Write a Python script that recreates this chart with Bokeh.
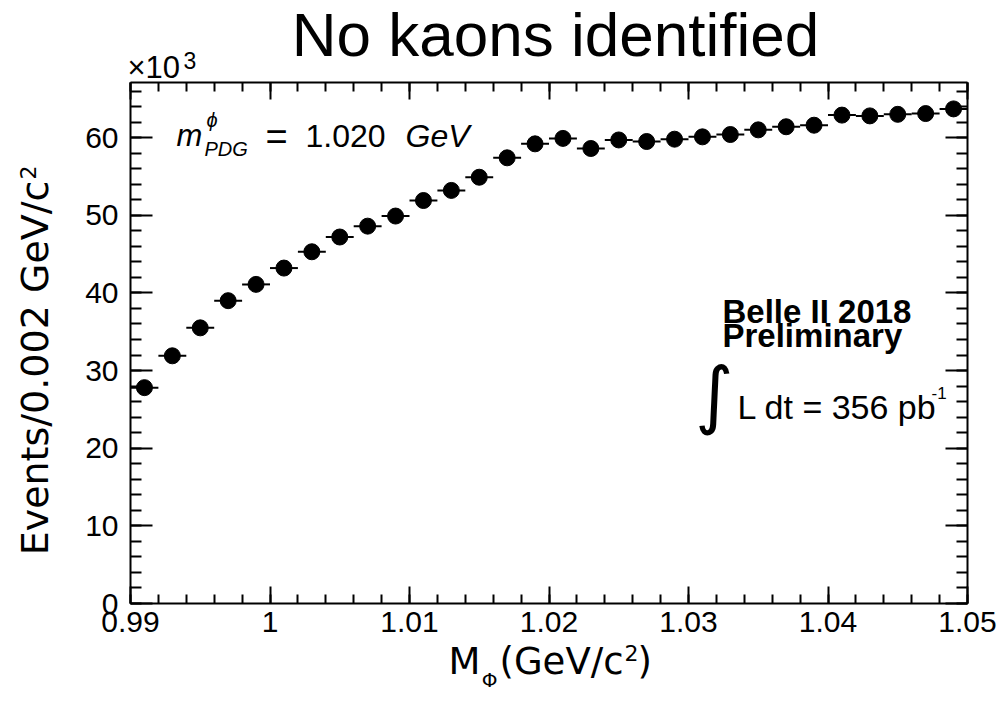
import math
import numpy as np
from bokeh.plotting import figure
from bokeh.models import (Range1d, FixedTicker, LinearAxis, Label,
                          CustomJSTickFormatter, ColumnDataSource)
from bokeh.embed import file_html
from bokeh.resources import INLINE

# ---------------- data ----------------
mass = [0.991, 0.993, 0.995, 0.997, 0.999, 1.001, 1.003, 1.005, 1.007, 1.009,
        1.011, 1.013, 1.015, 1.017, 1.019, 1.021, 1.023, 1.025, 1.027, 1.029,
        1.031, 1.033, 1.035, 1.037, 1.039, 1.041, 1.043, 1.045, 1.047, 1.049]
events_k = [27.8, 31.9, 35.5, 39.0, 41.1, 43.2, 45.3, 47.2, 48.6, 49.9,
            51.9, 53.2, 54.9, 57.4, 59.2, 59.9, 58.6, 59.7, 59.5, 59.8,
            60.1, 60.4, 61.0, 61.4, 61.6, 62.9, 62.8, 63.0, 63.1, 63.7]
bin_width = 0.002
x_ticks = [0.99, 1.00, 1.01, 1.02, 1.03, 1.04, 1.05]
y_ticks = [0, 10, 20, 30, 40, 50, 60]

X0, X1 = 0.99, 1.05
YMAX = 67.1

W, H = 1000, 700
# visible plot box in canvas pixels
FL, FR, FT, FB = 130, 967, 82, 603
SX = (X1 - X0) / (FR - FL)
SY = YMAX / (FB - FT)

def dx(px):
    return X0 + (px - FL) * SX

def dy(py):
    return (FB - py) * SY

p = figure(width=W, height=H, output_backend="svg", toolbar_location=None,
           x_range=Range1d(dx(0), dx(W)), y_range=Range1d(dy(H), dy(0)),
           x_axis_location=None, y_axis_location=None,
           min_border=0)
p.grid.visible = False
p.background_fill_color = "white"
p.border_fill_color = "white"
p.outline_line_color = None

x_minor = [round(v, 3) for v in np.arange(0.99, 1.0501, 0.002)]
y_minor = list(range(0, 67, 2))

FONT = "Liberation Sans"

def make_axis(loc, fixed, bounds, ticks, minor, major_in, minor_in,
              labels=True):
    ax = LinearAxis(fixed_location=fixed, bounds=bounds,
                    ticker=FixedTicker(ticks=ticks, minor_ticks=minor))
    ax.axis_line_color = "black"
    ax.axis_line_width = 2
    ax.major_tick_line_width = 2
    ax.minor_tick_line_width = 2
    ax.major_tick_in = major_in
    ax.major_tick_out = 0
    ax.minor_tick_in = minor_in
    ax.minor_tick_out = 0
    ax.major_label_text_font = FONT
    ax.major_label_text_font_size = "30px"
    ax.major_label_text_color = "black"
    if not labels:
        ax.formatter = CustomJSTickFormatter(code="return ''")
    p.add_layout(ax, loc)
    return ax

xb = make_axis("below", 0, (X0, X1), x_ticks, x_minor, 17, 9)
xb.formatter = CustomJSTickFormatter(code="""
var s = tick.toFixed(2);
s = s.replace(/0+$/, '').replace(/\\.$/, '');
return s;
""")
xb.major_label_standoff = 8
yl = make_axis("left", X0, (0, YMAX), y_ticks, y_minor, 22, 11)
yl.major_label_standoff = 12
make_axis("above", YMAX, (X0, X1), x_ticks, x_minor, 17, 9, labels=False)
make_axis("right", X1, (0, YMAX), y_ticks, y_minor, 22, 11, labels=False)

# ---------------- data marks ----------------
src = ColumnDataSource(dict(
    x=mass, y=events_k,
    x0=[m - bin_width / 2 for m in mass],
    x1=[m + bin_width / 2 for m in mass],
))
p.segment(x0="x0", y0="y", x1="x1", y1="y", source=src,
          line_color="black", line_width=2)
p.scatter(x="x", y="y", source=src, size=16, marker="circle",
          fill_color="black", line_color="black")

# ---------------- texts ----------------
BASE_FIX = 0.34  # svg places the alphabetic baseline ~0.34em low

def lab(px, py, text, size, font=FONT, style="normal", align="left",
        baseline="alphabetic", angle=0.0):
    if baseline == "alphabetic":
        if angle == 0.0:
            py -= BASE_FIX * size
        else:
            px -= BASE_FIX * size
    l = Label(x=dx(px), y=dy(py), text=text, text_font=font,
              text_font_size=f"{size}px", text_font_style=style,
              text_align=align, text_baseline=baseline, angle=angle,
              text_color="black")
    p.add_layout(l)
    return l

# title
lab(555, 55, "No kaons identified", 62, align="center")
# x10^3
lab(127, 78, "\u00d710", 31)
lab(183, 68, "3", 23)

# y axis title
AX = "DejaVu Sans"
lab(47, 180, "Events/0.002 GeV/c", 38, font=AX, align="right",
    angle=math.pi / 2)
lab(35, 179, "2", 22, font=AX, align="left", angle=math.pi / 2)

# x axis title
lab(623, 674, "(GeV/c", 37, font=AX, align="right")
lab(624, 660, "2", 22, font=AX)
lab(637, 674, ")", 37, font=AX)
lab(497, 686, "\u03a6", 20, font=AX, align="right")
lab(480, 674, "M", 37, font=AX, align="right")

# m^phi_PDG = 1.020 GeV
lab(176, 146, "m", 31, style="italic")
lab(206, 126, "\u03d5", 20, style="italic")
lab(204, 155, "PDG", 20, style="italic")
lab(265, 149, "=", 38)
lab(305, 146, "1.020", 32)
lab(405, 146, "GeV", 32, style="italic")

# Belle II block
lab(722, 322, "Belle II 2018", 33, style="bold")
lab(722, 346, "Preliminary", 33, style="bold")
lab(714, 393, "\u222b", 74, font="DejaVu Sans", align="center",
    baseline="middle")
lab(737, 418, "L dt = 356 pb", 34)
lab(931, 398, "-1", 17)

open("out.html", "w").write(file_html(p, INLINE))
